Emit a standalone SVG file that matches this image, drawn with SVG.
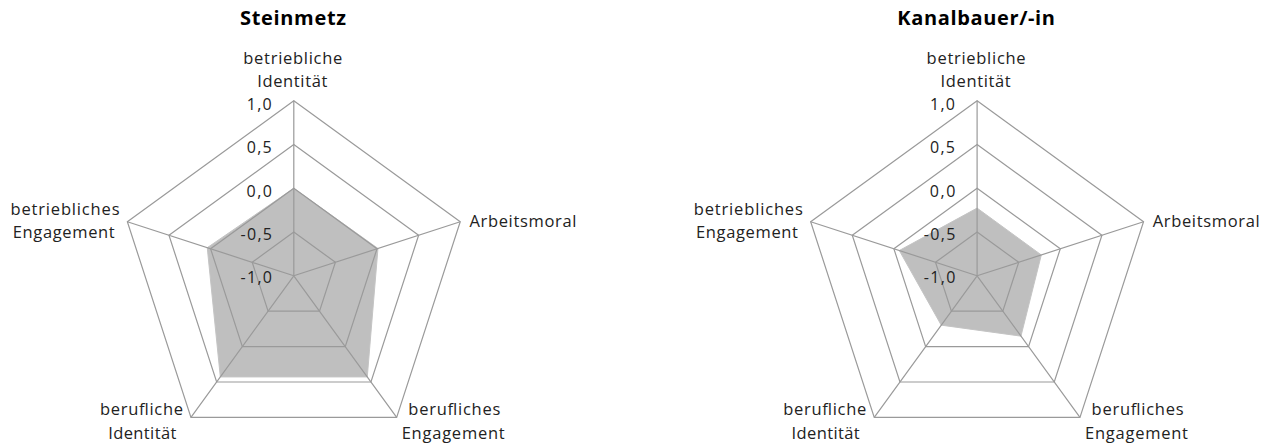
<svg xmlns="http://www.w3.org/2000/svg" width="1274" height="446" viewBox="0 0 1274 446">
<style>
.bg{fill:#ffffff}
.area{fill:#bfbfbf;stroke:#c4c4c4;stroke-width:1}
.grid{fill:none;stroke:#9a9a9a;stroke-width:1.2}
.title{font-family:"Open Sans","Liberation Sans",sans-serif;font-weight:bold;font-size:20px;fill:#000}
.lbl{font-family:"Open Sans","Liberation Sans",sans-serif;font-size:16.5px;fill:#222}
.num{font-family:"Open Sans","Liberation Sans",sans-serif;font-size:16px;fill:#222}
</style>
<defs>
<g id="grid">
<polygon class="grid" points="293.8,100.8 460.24,221.72 396.66,417.38 190.94,417.38 127.36,221.72"/>
<polygon class="grid" points="293.8,144.55 418.63,235.24 370.95,381.98 216.65,381.98 168.97,235.24"/>
<polygon class="grid" points="293.8,188.3 377.02,248.76 345.23,346.59 242.37,346.59 210.58,248.76"/>
<polygon class="grid" points="293.8,232.05 335.41,262.28 319.52,311.19 268.08,311.19 252.19,262.28"/>
<path class="grid" d="M293.8,275.8L293.8,100.8M293.8,275.8L460.24,221.72M293.8,275.8L396.66,417.38M293.8,275.8L190.94,417.38M293.8,275.8L127.36,221.72"/>
</g>
<g id="labels">
<text class="lbl" x="243.3" y="64" textLength="99" lengthAdjust="spacing">betriebliche</text>
<text class="lbl" x="257.3" y="87.3" textLength="70" lengthAdjust="spacing">Identität</text>
<text class="lbl" x="469.4" y="226.7" textLength="107" lengthAdjust="spacing">Arbeitsmoral</text>
<text class="lbl" x="408.3" y="415" textLength="92" lengthAdjust="spacing">berufliches</text>
<text class="lbl" x="401.7" y="439.3" textLength="103" lengthAdjust="spacing">Engagement</text>
<text class="lbl" x="100" y="415" textLength="83" lengthAdjust="spacing">berufliche</text>
<text class="lbl" x="108.3" y="439.3" textLength="68" lengthAdjust="spacing">Identität</text>
<text class="lbl" x="10.5" y="215" textLength="109" lengthAdjust="spacing">betriebliches</text>
<text class="lbl" x="12.7" y="237.5" textLength="102" lengthAdjust="spacing">Engagement</text>
<text class="num" x="246.7" y="109.5" textLength="25" lengthAdjust="spacing">1,0</text>
<text class="num" x="246.7" y="153" textLength="25" lengthAdjust="spacing">0,5</text>
<text class="num" x="246.5" y="196.5" textLength="25.5" lengthAdjust="spacing">0,0</text>
<text class="num" x="240.5" y="240" textLength="31.5" lengthAdjust="spacing">-0,5</text>
<text class="num" x="240.5" y="283" textLength="31.5" lengthAdjust="spacing">-1,0</text>
</g>
</defs>
<rect class="bg" x="0" y="0" width="1274" height="446"/>
<g id="chart-steinmetz">
<text class="title" x="240" y="25" textLength="106" lengthAdjust="spacing">Steinmetz</text>
<polygon id="series-steinmetz" class="area" points="293.8,188.3 377.97,248.45 367.27,376.93 220.33,376.93 207.25,247.68"/>
<use href="#grid"/>
<use href="#labels"/>
</g>
<g id="chart-kanalbauer" transform="translate(683.3,0)">
<text class="title" x="214" y="25" textLength="157.7" lengthAdjust="spacing">Kanalbauer/-in</text>
<polygon id="series-kanalbauer" class="area" points="293.8,208.1 358,254.94 337.65,336.15 257.94,325.15 216,250.52"/>
<use href="#grid"/>
<use href="#labels"/>
</g>
</svg>
